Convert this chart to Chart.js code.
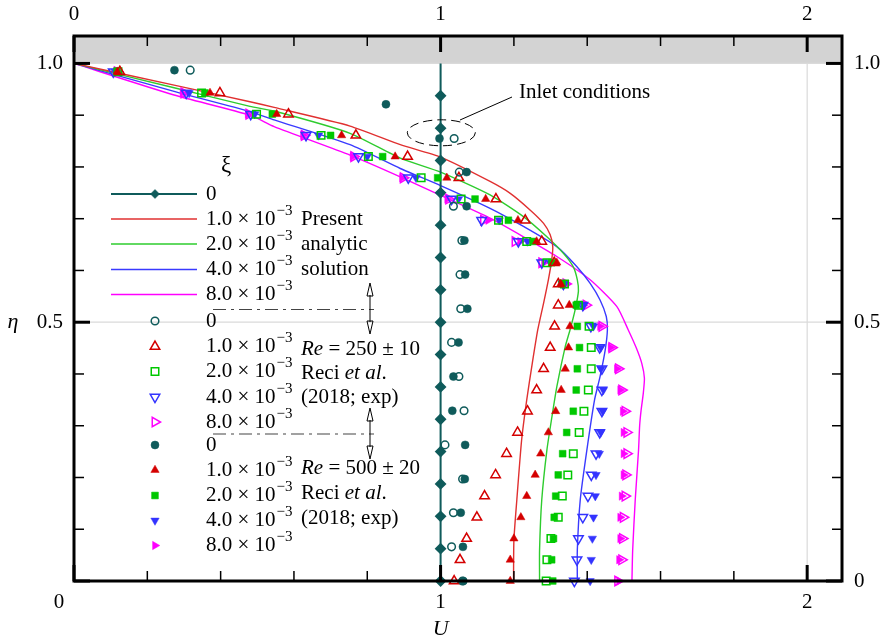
<!DOCTYPE html>
<html>
<head>
<meta charset="utf-8">
<script src="https://cdn.jsdelivr.net/npm/chart.js@4.4.1/dist/chart.umd.min.js"></script>
<style>
  html, body { margin: 0; padding: 0; background: #fff; }
  #wrap { width: 881px; height: 643px; position: relative; }
</style>
</head>
<body>
<div id="wrap"><canvas id="chart"></canvas></div>
<script>
// analytic solution, xi = 0 (uniform inlet profile)
const etaDiamond = [0, 0.0625, 0.125, 0.1875, 0.25, 0.3125, 0.375, 0.4375, 0.5, 0.5625, 0.625, 0.6875, 0.75, 0.8125, 0.875, 0.9375, 1];

// analytic solution curves
const redU = [0, 0.273, 0.48, 0.546, 0.753, 0.89, 1.0, 1.135, 1.19, 1.244, 1.281, 1.299, 1.306, 1.303, 1.294, 1.281, 1.265, 1.25, 1.235, 1.221, 1.208, 1.2, 1.199];
const redEta = [1, 0.958, 0.926, 0.915, 0.879, 0.843, 0.819, 0.772, 0.749, 0.717, 0.691, 0.669, 0.646, 0.62, 0.582, 0.537, 0.485, 0.42, 0.35, 0.272, 0.157, 0.079, 0];
const greenU = [0, 0.273, 0.48, 0.546, 0.753, 0.89, 1.0, 1.135, 1.226, 1.29, 1.335, 1.362, 1.373, 1.376, 1.367, 1.353, 1.34, 1.317, 1.303, 1.29, 1.276, 1.27, 1.27];
const greenEta = [1, 0.953, 0.917, 0.908, 0.865, 0.817, 0.79, 0.746, 0.704, 0.665, 0.633, 0.607, 0.582, 0.56, 0.524, 0.485, 0.453, 0.375, 0.314, 0.253, 0.157, 0.06, 0];
const blueU = [0, 0.273, 0.48, 0.546, 0.753, 0.89, 1.0, 1.135, 1.226, 1.317, 1.372, 1.408, 1.435, 1.452, 1.455, 1.449, 1.435, 1.42, 1.399, 1.381, 1.373, 1.373];
const blueEta = [1, 0.946, 0.907, 0.891, 0.843, 0.797, 0.764, 0.72, 0.685, 0.646, 0.607, 0.575, 0.543, 0.511, 0.485, 0.446, 0.395, 0.35, 0.253, 0.157, 0.06, 0];
const magentaU = [0, 0.273, 0.48, 0.546, 0.753, 0.89, 1.0, 1.135, 1.226, 1.317, 1.408, 1.481, 1.512, 1.534, 1.549, 1.556, 1.553, 1.547, 1.543, 1.54, 1.531, 1.524, 1.522];
const magentaEta = [1, 0.939, 0.9, 0.878, 0.823, 0.781, 0.745, 0.701, 0.665, 0.627, 0.582, 0.53, 0.485, 0.45, 0.42, 0.392, 0.363, 0.33, 0.3, 0.253, 0.157, 0.06, 0];

// Reci et al. (2018) measurements, xi = 0 rows
const etaTeal = [0, 0.066, 0.132, 0.197, 0.263, 0.329, 0.395, 0.461, 0.526, 0.592, 0.658, 0.724, 0.79, 0.855, 0.921, 0.987];
const tealOpenU = [1.06, 1.03, 1.035, 1.06, 1.012, 1.064, 1.05, 1.03, 1.055, 1.053, 1.058, 1.035, 1.051, 1.037, null, 0.317];
const tealFilledU = [1.062, 1.061, 1.055, 1.066, 1.067, 1.032, 1.035, 1.049, 1.073, 1.067, 1.065, 1.071, 1.071, 0.997, 0.851, 0.274];

// Reci et al. (2018) measurements, xi > 0 rows
const etaExp = [0, 0.041, 0.082, 0.123, 0.164, 0.205, 0.246, 0.287, 0.328, 0.369, 0.41, 0.451, 0.492, 0.533, 0.574, 0.615, 0.656, 0.697, 0.738, 0.779, 0.82, 0.861, 0.902, 0.943, 0.984];
const redOpenU = [1.037, 1.053, 1.071, 1.099, 1.12, 1.15, 1.18, 1.21, 1.237, 1.262, 1.281, 1.299, 1.311, 1.321, 1.321, 1.31, 1.276, 1.231, 1.151, 1.05, 0.91, 0.769, 0.585, 0.398, 0.125];
const redFilledU = [1.19, 1.19, 1.2, 1.219, 1.235, 1.258, 1.273, 1.294, 1.314, 1.329, 1.34, 1.349, 1.353, 1.351, 1.328, 1.317, 1.262, 1.211, 1.123, 1.017, 0.876, 0.73, 0.553, 0.371, 0.118];
const greenOpenU = [1.288, 1.29, 1.301, 1.321, 1.332, 1.347, 1.362, 1.378, 1.391, 1.403, 1.411, 1.411, 1.405, 1.376, 1.338, 1.29, 1.235, 1.158, 1.056, 0.947, 0.803, 0.674, 0.498, 0.348, 0.12];
const greenFilledU = [1.306, 1.303, 1.308, 1.31, 1.314, 1.321, 1.333, 1.344, 1.362, 1.37, 1.373, 1.379, 1.373, 1.37, 1.331, 1.303, 1.252, 1.185, 1.094, 0.992, 0.842, 0.7, 0.541, 0.357, 0.118];
const blueOpenU = [1.365, 1.372, 1.376, 1.388, 1.402, 1.411, 1.424, 1.434, 1.44, 1.44, 1.44, 1.434, 1.41, 1.388, 1.335, 1.276, 1.212, 1.112, 1.03, 0.912, 0.776, 0.633, 0.482, 0.306, 0.107];
const blueFilledU = [1.408, 1.411, 1.414, 1.417, 1.422, 1.424, 1.433, 1.437, 1.442, 1.444, 1.438, 1.437, 1.417, 1.39, 1.337, 1.299, 1.237, 1.16, 1.049, 0.933, 0.8, 0.667, 0.493, 0.314, 0.112];
const magentaOpenU = [1.483, 1.494, 1.496, 1.498, 1.503, 1.505, 1.508, 1.508, 1.503, 1.494, 1.485, 1.467, 1.44, 1.397, 1.342, 1.276, 1.203, 1.117, 1.022, 0.898, 0.763, 0.628, 0.477, 0.3, 0.118];
const magentaFilledU = [1.487, 1.487, 1.49, 1.49, 1.494, 1.499, 1.499, 1.499, 1.497, 1.49, 1.481, 1.464, 1.435, 1.39, 1.34, 1.282, 1.217, 1.13, 1.018, 0.895, 0.76, 0.625, 0.474, 0.296, 0.115];

const xTicks = [0, 0.2, 0.4, 0.6, 0.8, 1, 1.2, 1.4, 1.6, 1.8, 2];
const yTicks = [0, 0.1, 0.2, 0.3, 0.4, 0.5, 0.6, 0.7, 0.8, 0.9, 1];
const xLabels = ['0', '1', '2'];
const yLabels = ['0', '0.5', '1.0'];
const xiLabels = ['0', '1.0', '2.0', '4.0', '8.0'];

const TEAL = '#0f5b5b';
const RED = '#d40000';
const GREEN = '#00c800';
const BLUE = '#3333ff';
const MAGENTA = '#ff00ff';
const SERIF = '"Liberation Serif", "Times New Roman", serif';
const FONT = '21px ' + SERIF;
const FONT_IT = 'italic 21px ' + SERIF;

function pts(xs, ys) {
  const out = [];
  for (let i = 0; i < xs.length; i++) {
    if (xs[i] !== null) out.push({ x: xs[i], y: ys[i] });
  }
  return out;
}

function curve(xs, ys, color) {
  return {
    data: pts(xs, ys),
    showLine: true,
    borderColor: color,
    borderWidth: 1.4,
    pointRadius: 0,
    tension: 0.2,
    fill: false,
    clip: false,
  };
}

function markers(xs, ys, color, style, rotation, filled, radius) {
  return {
    data: pts(xs, ys),
    showLine: false,
    pointStyle: style,
    rotation: rotation,
    pointRadius: radius,
    borderColor: color,
    backgroundColor: filled ? color : 'rgba(0,0,0,0)',
    borderWidth: filled ? 0.5 : 1.5,
    clip: false,
  };
}

const etaOnes = etaDiamond.map(() => 1);

const figurePlugin = {
  id: 'figure',
  beforeDatasetsDraw(chart) {
    const { ctx, chartArea: a, scales: { x, y } } = chart;
    ctx.save();
    // gray band above eta = 1
    ctx.fillStyle = '#d3d3d3';
    ctx.fillRect(a.left, a.top, a.right - a.left, y.getPixelForValue(1) - a.top);
    // light grid
    ctx.strokeStyle = '#dadada';
    ctx.lineWidth = 1.2;
    ctx.beginPath();
    ctx.moveTo(a.left, y.getPixelForValue(0.5));
    ctx.lineTo(a.right, y.getPixelForValue(0.5));
    ctx.moveTo(a.left, y.getPixelForValue(1));
    ctx.lineTo(a.right, y.getPixelForValue(1));
    [1, 2].forEach((u) => {
      ctx.moveTo(x.getPixelForValue(u), y.getPixelForValue(0));
      ctx.lineTo(x.getPixelForValue(u), y.getPixelForValue(1));
    });
    ctx.stroke();
    ctx.restore();
  },
  afterDatasetsDraw(chart) {
    const { ctx, chartArea: a, scales: { x, y } } = chart;
    ctx.save();

    // frame
    ctx.strokeStyle = '#000';
    ctx.lineWidth = 3;
    ctx.strokeRect(a.left, a.top, a.right - a.left, a.bottom - a.top);

    // ticks (inward)
    function line(x1, y1, x2, y2, w) {
      ctx.lineWidth = w;
      ctx.beginPath();
      ctx.moveTo(x1, y1);
      ctx.lineTo(x2, y2);
      ctx.stroke();
    }
    xTicks.forEach((u) => {
      const px = x.getPixelForValue(u);
      const major = Math.abs(u - Math.round(u)) < 1e-9;
      const len = major ? 16 : 10;
      const w = major ? 3 : 1.5;
      line(px, a.bottom, px, a.bottom - len, w);
      line(px, a.top, px, a.top + len, w);
    });
    yTicks.forEach((e) => {
      const py = y.getPixelForValue(e);
      const major = Math.abs(e * 2 - Math.round(e * 2)) < 1e-9;
      const len = major ? 16 : 10;
      const w = major ? 3 : 1.5;
      line(a.left, py, a.left + len, py, w);
      line(a.right, py, a.right - len, py, w);
    });

    // tick labels
    ctx.fillStyle = '#000';
    ctx.font = FONT;
    ctx.textBaseline = 'middle';
    ctx.textAlign = 'center';
    xLabels.forEach((s, i) => {
      let px = x.getPixelForValue(i);
      if (i === 0) px -= 15;
      ctx.fillText(s, px, a.bottom + 21);
      ctx.fillText(s, i === 0 ? px + 15 : px, a.top - 22);
    });
    ctx.textAlign = 'right';
    yLabels.forEach((s, i) => {
      if (i === 0) return;
      ctx.fillText(s, 63, y.getPixelForValue(i * 0.5));
    });
    ctx.textAlign = 'left';
    yLabels.forEach((s, i) => {
      ctx.fillText(s, a.right + 12, y.getPixelForValue(i * 0.5));
    });
    // axis titles
    ctx.font = 'italic 22px ' + SERIF;
    ctx.textAlign = 'center';
    ctx.fillText('U', x.getPixelForValue(1), a.bottom + 48);
    ctx.fillText('\u03b7', 13, y.getPixelForValue(0.5));

    // inlet conditions annotation
    ctx.lineWidth = 1;
    ctx.strokeStyle = '#000';
    ctx.setLineDash([9, 5]);
    ctx.beginPath();
    ctx.ellipse(x.getPixelForValue(1.002), y.getPixelForValue(0.866), 34, 13, 0, 0, Math.PI * 2);
    ctx.stroke();
    ctx.setLineDash([]);
    ctx.beginPath();
    ctx.moveTo(460, 120);
    ctx.lineTo(512, 97);
    ctx.stroke();
    ctx.font = FONT;
    ctx.textAlign = 'left';
    ctx.fillText('Inlet conditions', 519, 92);

    // legend
    const helpers = Chart.helpers;
    ctx.font = '23px ' + SERIF;
    ctx.fillText('\u03be', 221, 166);

    function sci(mant, tx, ty) {
      ctx.font = FONT;
      ctx.textAlign = 'left';
      if (mant === '0') {
        ctx.fillText('0', tx, ty);
        return;
      }
      const base = mant + ' \u00d7 10';
      ctx.fillText(base, tx, ty);
      const w = ctx.measureText(base).width;
      ctx.font = '15px ' + SERIF;
      ctx.fillText('\u22123', tx + w + 1, ty - 8);
    }
    function mark(style, rot, color, filled, r, mx, my) {
      ctx.fillStyle = filled ? color : 'rgba(0,0,0,0)';
      ctx.strokeStyle = color;
      ctx.lineWidth = filled ? 0.5 : 1.5;
      helpers.drawPoint(ctx, { pointStyle: style, rotation: rot, radius: r, borderWidth: filled ? 0.5 : 1.5 }, mx, my);
      ctx.fillStyle = '#000';
    }

    const lineColors = [TEAL, '#e03030', '#2ecc2e', '#3a3aff', MAGENTA];
    const lineRows = [194, 219, 244, 269.5, 294.5];
    lineRows.forEach((ry, i) => {
      ctx.strokeStyle = lineColors[i];
      ctx.lineWidth = i === 0 ? 2 : 1.5;
      ctx.beginPath();
      ctx.moveTo(111, ry);
      ctx.lineTo(197, ry);
      ctx.stroke();
      if (i === 0) mark('rectRot', 0, TEAL, true, 4.5, 155, ry);
      sci(xiLabels[i], 206, ry);
    });
    ctx.font = FONT;
    ctx.fillText('Present', 301, 219);
    ctx.fillText('analytic', 301, 244);
    ctx.fillText('solution', 301, 269.5);

    const colors = [TEAL, RED, GREEN, BLUE, MAGENTA];
    const openStyles = [['circle', 0, 3.8], ['triangle', 0, 5.5], ['rect', 0, 5.3], ['triangle', 180, 5.5], ['triangle', 90, 5.5]];
    const filledStyles = [['circle', 0, 4], ['triangle', 0, 4.8], ['rect', 0, 4.8], ['triangle', 180, 4.8], ['triangle', 90, 4.8]];
    const openRows = [321, 346.5, 371.5, 397, 422];
    const filledRows = [445, 470, 495.5, 520.5, 545.5];
    openRows.forEach((ry, i) => {
      mark(openStyles[i][0], openStyles[i][1], colors[i], false, openStyles[i][2], 155, ry);
      sci(xiLabels[i], 206, ry);
    });
    filledRows.forEach((ry, i) => {
      mark(filledStyles[i][0], filledStyles[i][1], colors[i], true, filledStyles[i][2], 155, ry);
      sci(xiLabels[i], 206, ry);
    });

    function reText(num, tx, ty) {
      ctx.textAlign = 'left';
      ctx.font = FONT_IT;
      ctx.fillText('Re', tx, ty);
      const w = ctx.measureText('Re').width;
      ctx.font = FONT;
      ctx.fillText(' = ' + num, tx + w, ty);
    }
    function reciText(tx, ty) {
      ctx.font = FONT;
      ctx.fillText('Reci ', tx, ty);
      let w = ctx.measureText('Reci ').width;
      ctx.font = FONT_IT;
      ctx.fillText('et al', tx + w, ty);
      w += ctx.measureText('et al').width;
      ctx.font = FONT;
      ctx.fillText('.', tx + w, ty);
    }
    reText('250 \u00b1 10', 301, 349);
    reciText(301, 373);
    ctx.fillText('(2018; exp)', 301, 397);
    reText('500 \u00b1 20', 301, 468);
    reciText(301, 493);
    ctx.fillText('(2018; exp)', 301, 518);

    // dash-dot separators with double arrows
    function separator(sy, top, bottom) {
      ctx.strokeStyle = '#444';
      ctx.lineWidth = 1.2;
      ctx.setLineDash([13, 5, 3, 5]);
      ctx.beginPath();
      ctx.moveTo(213, sy);
      ctx.lineTo(374, sy);
      ctx.stroke();
      ctx.setLineDash([]);
      ctx.strokeStyle = '#000';
      ctx.lineWidth = 1;
      ctx.beginPath();
      ctx.moveTo(370, top + 12);
      ctx.lineTo(370, bottom - 12);
      ctx.stroke();
      ctx.beginPath();
      ctx.moveTo(370, top);
      ctx.lineTo(367, top + 13);
      ctx.lineTo(373, top + 13);
      ctx.closePath();
      ctx.moveTo(370, bottom);
      ctx.lineTo(367, bottom - 13);
      ctx.lineTo(373, bottom - 13);
      ctx.closePath();
      ctx.stroke();
    }
    separator(309.5, 283, 334);
    separator(434, 408, 459);

    ctx.restore();
  },
};

const datasets = [
  markers(tealOpenU, etaTeal, TEAL, 'circle', 0, false, 3.8),
  markers(tealFilledU, etaTeal, TEAL, 'circle', 0, true, 4),
  markers(redOpenU, etaExp, RED, 'triangle', 0, false, 5.5),
  markers(redFilledU, etaExp, RED, 'triangle', 0, true, 4.8),
  markers(greenOpenU, etaExp, GREEN, 'rect', 0, false, 5.3),
  markers(greenFilledU, etaExp, GREEN, 'rect', 0, true, 4.8),
  markers(blueOpenU, etaExp, BLUE, 'triangle', 180, false, 5.5),
  markers(blueFilledU, etaExp, BLUE, 'triangle', 180, true, 4.8),
  markers(magentaOpenU, etaExp, MAGENTA, 'triangle', 90, false, 5.5),
  markers(magentaFilledU, etaExp, MAGENTA, 'triangle', 90, true, 4.8),
  {
    data: pts(etaOnes, etaDiamond),
    showLine: true,
    borderColor: TEAL,
    backgroundColor: TEAL,
    borderWidth: 2,
    pointStyle: 'rectRot',
    pointRadius: etaDiamond.map((e) => (e === 1 ? 0 : 4.5)),
    tension: 0,
    clip: false,
  },
  curve(redU, redEta, '#e03030'),
  curve(greenU, greenEta, '#2ecc2e'),
  curve(blueU, blueEta, '#3a3aff'),
  curve(magentaU, magentaEta, MAGENTA),
];

new Chart(document.getElementById('chart').getContext('2d'), {
  type: 'scatter',
  data: { datasets },
  options: {
    animation: false,
    responsive: true,
    maintainAspectRatio: false,
    devicePixelRatio: 1,
    layout: { padding: { left: 74, right: 39, top: 36, bottom: 62 } },
    scales: {
      x: { type: 'linear', min: 0, max: 2.095, display: false },
      y: { type: 'linear', min: 0, max: 1.053, display: false },
    },
    plugins: {
      legend: { display: false },
      tooltip: { enabled: false },
    },
    events: [],
  },
  plugins: [figurePlugin],
});
</script>
</body>
</html>
